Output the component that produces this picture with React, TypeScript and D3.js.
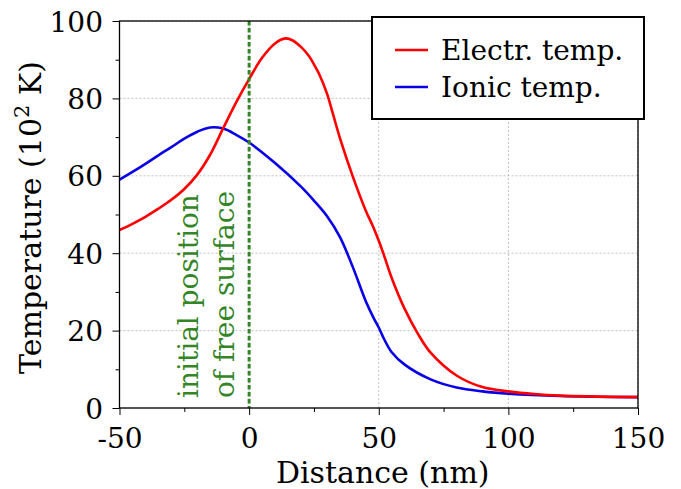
import { useRef, useEffect } from "react";
import * as d3 from "d3";

// values (x in nm, T in 10^2 K)
const electrX = [-50, -45, -40, -35, -30, -25, -20, -15, -10, -5, 0, 5, 10, 14, 17, 20, 23, 25, 27, 30, 32.5, 35, 40, 45, 48, 50, 52, 55, 60, 65, 70, 80, 90, 100, 110, 120, 150];
const electrT = [46, 47.6, 49.4, 51.5, 53.8, 56.6, 60.3, 65.5, 72.3, 79, 85, 90.5, 94.2, 95.5, 94.9, 93.3, 91, 88.8, 86.3, 81.3, 75.6, 69.8, 59.8, 51, 46.6, 43.2, 39.5, 33.6, 25.6, 19.3, 14.3, 8.4, 5.4, 4.3, 3.6, 3.2, 2.8];
const ionX = [-50, -45, -40, -35, -30, -25, -20, -15, -10, -5, 0, 10, 20, 25, 30, 35, 40, 45, 48, 50, 52, 55, 60, 70, 80, 90, 100, 120, 150];
const ionT = [59, 61, 63.1, 65.3, 67.4, 69.6, 71.4, 72.5, 72.2, 70.6, 68.6, 63.3, 57.2, 53.6, 49.6, 44.2, 36.4, 27.6, 23.3, 20.8, 17.9, 14.4, 11.2, 7.4, 5.3, 4.3, 3.7, 3.1, 2.8];

const xMajor = [-50, 0, 50, 100, 150];
const xMinor = [-25, 25, 75, 125];
const yMajor = [0, 20, 40, 60, 80, 100];
const yMinor = [10, 30, 50, 70, 90];

const surfaceX = 0;
const green = "#338526";
const font = "DejaVu Serif";

const App = () => {
  const svgRef = useRef(null);

  useEffect(() => {
    const width = 681;
    const height = 489;
    const m = { left: 119.5, right: 43, top: 21, bottom: 81 };
    const svg = d3.select(svgRef.current).attr("width", width).attr("height", height);
    svg.selectAll("*").remove();

    const x = d3.scaleLinear().domain([-50, 150]).range([m.left, width - m.right]);
    const y = d3.scaleLinear().domain([0, 100]).range([height - m.bottom, m.top]);

    // grid
    const grid = svg.append("g");
    grid.selectAll("line.gx")
      .data(xMajor)
      .join("line")
      .attr("x1", (d) => x(d)).attr("x2", (d) => x(d))
      .attr("y1", y(0)).attr("y2", y(100))
      .attr("stroke", "#b0b0b0").attr("stroke-width", 0.8).attr("stroke-dasharray", "2,2");
    grid.selectAll("line.gy")
      .data(yMajor)
      .join("line")
      .attr("y1", (d) => y(d)).attr("y2", (d) => y(d))
      .attr("x1", x(-50)).attr("x2", x(150))
      .attr("stroke", "#b0b0b0").attr("stroke-width", 0.8).attr("stroke-dasharray", "2,2");

    // curves
    const curve = d3.line().curve(d3.curveCatmullRom.alpha(0.5));
    const elPts = electrX.map((d, i) => [x(d), y(electrT[i])] as [number, number]);
    const ionPts = ionX.map((d, i) => [x(d), y(ionT[i])] as [number, number]);
    svg.append("path")
      .attr("d", curve(ionPts))
      .attr("fill", "none").attr("stroke", "#0a00e6").attr("stroke-width", 2.6);
    svg.append("path")
      .attr("d", curve(elPts))
      .attr("fill", "none").attr("stroke", "#ff0000").attr("stroke-width", 2.6);

    // surface line
    svg.append("line")
      .attr("x1", x(surfaceX)).attr("x2", x(surfaceX))
      .attr("y1", y(100)).attr("y2", y(0))
      .attr("stroke", green).attr("stroke-width", 3).attr("stroke-dasharray", "4.5,2.5");

    svg.append("text")
      .attr("transform", `translate(198,398) rotate(-90)`)
      .attr("font-family", font).attr("font-size", 28).attr("fill", green)
      .text("initial position");
    svg.append("text")
      .attr("transform", `translate(234,398) rotate(-90)`)
      .attr("font-family", font).attr("font-size", 28).attr("fill", green)
      .text("of free surface");

    // axes
    const fmt = (d) => String(d);
    const axB = svg.append("g").attr("transform", `translate(0,${y(0)})`)
      .call(d3.axisBottom(x).tickValues(xMajor).tickSize(7).tickPadding(13).tickFormat(fmt));
    axB.append("g").call(d3.axisBottom(x).tickValues(xMinor).tickSize(4).tickFormat(() => ""));
    const axL = svg.append("g").attr("transform", `translate(${x(-50)},0)`)
      .call(d3.axisLeft(y).tickValues(yMajor).tickSize(7).tickPadding(9.5).tickFormat(fmt));
    axL.append("g").call(d3.axisLeft(y).tickValues(yMinor).tickSize(4).tickFormat(() => ""));
    svg.selectAll(".domain").remove();
    svg.selectAll(".tick line").attr("stroke", "#000").attr("stroke-width", 1);
    svg.selectAll(".tick text").attr("font-family", font).attr("font-size", 28).attr("fill", "#000");
    axL.selectAll(".tick text").attr("dy", "0.36em");

    svg.append("rect")
      .attr("x", x(-50)).attr("y", y(100))
      .attr("width", x(150) - x(-50)).attr("height", y(0) - y(100))
      .attr("fill", "none").attr("stroke", "#000").attr("stroke-width", 1.3);

    // axis labels
    svg.append("text")
      .attr("x", (x(-50) + x(150)) / 2 + 4).attr("y", 483)
      .attr("text-anchor", "middle")
      .attr("font-family", font).attr("font-size", 30)
      .text("Distance (nm)");
    const yl = svg.append("text")
      .attr("transform", `translate(41,${(y(0) + y(100)) / 2 + 3}) rotate(-90)`)
      .attr("text-anchor", "middle")
      .attr("font-family", font).attr("font-size", 30);
    yl.append("tspan").text("Temperature (10");
    yl.append("tspan").attr("font-size", 21).attr("dy", -12).text("2");
    yl.append("tspan").attr("dy", 12).text(" K)");

    // legend
    const lg = svg.append("g").attr("transform", "translate(372,17)");
    lg.append("rect").attr("width", 272).attr("height", 102)
      .attr("fill", "#fff").attr("stroke", "#000").attr("stroke-width", 2);
    const items = [
      { label: "Electr. temp.", color: "#ff0000" },
      { label: "Ionic temp.", color: "#0a00e6" },
    ];
    items.forEach((it, i) => {
      const cy = 33 + i * 37;
      lg.append("line").attr("x1", 23).attr("x2", 56).attr("y1", cy).attr("y2", cy)
        .attr("stroke", it.color).attr("stroke-width", 2.6);
      lg.append("text").attr("x", 69).attr("y", cy + 10)
        .attr("font-family", font).attr("font-size", 28).text(it.label);
    });
  }, []);

  return <svg ref={svgRef} style={{ display: "block", position: "absolute", left: 0, top: 0 }}></svg>;
};

export default App;
